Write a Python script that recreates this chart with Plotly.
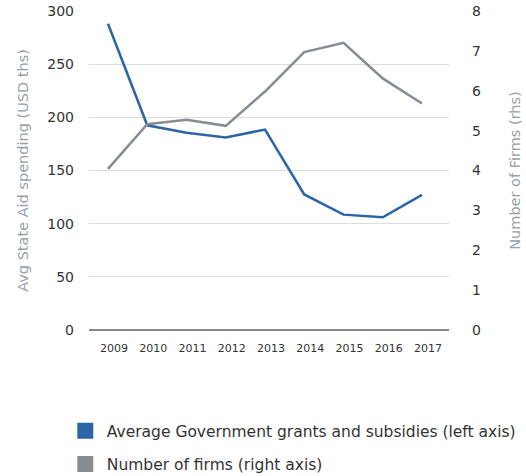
import plotly.graph_objects as go

years = [2009, 2010, 2011, 2012, 2013, 2014, 2015, 2016, 2017]
grants = [288, 192.5, 185.5, 181, 188.5, 127.5, 108.5, 106, 127]
firms = [4.04, 5.16, 5.27, 5.12, 5.98, 6.97, 7.2, 6.31, 5.68]
grants_name = "Average Government grants and subsidies (left axis)"
firms_name = "Number of firms (right axis)"

BLUE = "#2b65a6"
GRAY = "#878c93"
FONT = "DejaVu Sans"

fig = go.Figure()
fig.add_trace(go.Scatter(x=years, y=grants, mode="lines", name=grants_name,
                         line=dict(color=BLUE, width=2.5), showlegend=False))
fig.add_trace(go.Scatter(x=years, y=firms, mode="lines", name=firms_name,
                         line=dict(color=GRAY, width=2.5), yaxis="y2", showlegend=False))
# legend entries with square swatches
fig.add_trace(go.Scatter(x=[None], y=[None], mode="markers", name=grants_name, legendgroup="a",
                         marker=dict(symbol="square", size=20, color=BLUE)))
fig.add_trace(go.Scatter(x=[None], y=[None], mode="markers", name=firms_name, legendgroup="b",
                         marker=dict(symbol="square", size=20, color=GRAY)))

fig.update_layout(
    width=526, height=476,
    margin=dict(l=89, r=77, t=11, b=146, autoexpand=False),
    plot_bgcolor="white", paper_bgcolor="white",
    font=dict(family=FONT, color="#333333"),
    xaxis=dict(range=[2008.516, 2017.688], tickvals=years, ticktext=[str(y) for y in years],
               showgrid=False, zeroline=False, showline=False, ticks="", automargin=False,
               tickfont=dict(size=11, color="#333333"), ticklabelshift=6, ticklabelstandoff=10),
    yaxis=dict(range=[0, 300], tickvals=[0, 50, 100, 150, 200, 250, 300], automargin=False,
               showgrid=True, gridcolor="#dddddd", gridwidth=1,
               zeroline=True, zerolinecolor="#888888", zerolinewidth=1.5,
               showline=False, ticks="", tickfont=dict(size=14, color="#333333"),
               ticklabelstandoff=14,
               title=dict(text="Avg State Aid spending (USD ths)", font=dict(size=14.5, color="#9a9fa5"),
                          standoff=15)),
    yaxis2=dict(range=[0, 8], tickvals=[0, 1, 2, 3, 4, 5, 6, 7, 8], overlaying="y", side="right",
                showgrid=False, zeroline=False, showline=False, ticks="", automargin=False,
                tickfont=dict(size=14, color="#333333"), ticklabelstandoff=22,
                title=dict(text="Number of Firms (rhs)", font=dict(size=14.5, color="#9a9fa5"),
                           standoff=29)),
    legend=dict(orientation="v", x=-0.07, xanchor="left", y=-0.264, yanchor="top",
                font=dict(size=15.5, color="#333333"), tracegroupgap=10, itemwidth=33,
                itemsizing="trace", bgcolor="rgba(0,0,0,0)"),
)

fig.write_html("out.html", config={"displayModeBar": False},
               post_script="document.body.style.margin='0';")
